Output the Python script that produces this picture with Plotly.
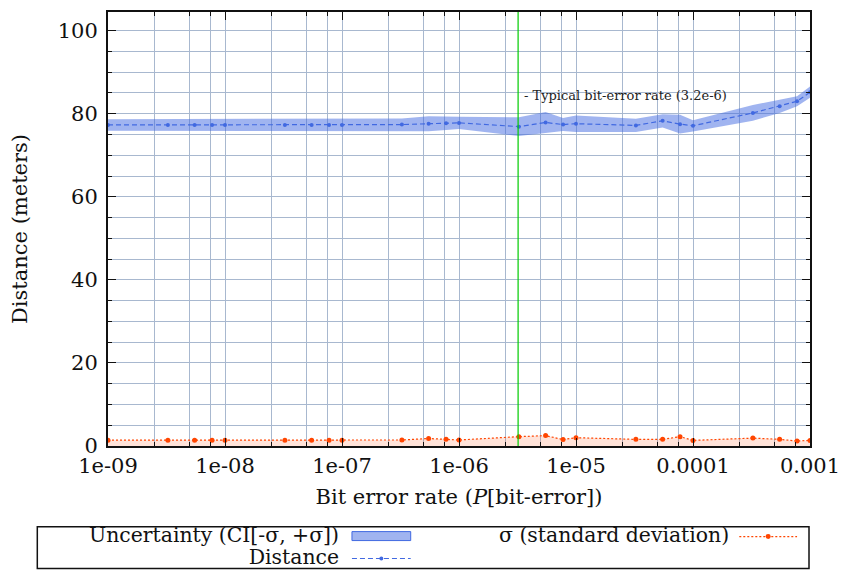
import numpy as np
import plotly.graph_objects as go

# ---------------- data ----------------
ber = [1e-9, 3.25e-9, 5.5e-9, 7.75e-9,
       1e-8, 3.25e-8, 5.5e-8, 7.75e-8,
       1e-7, 3.25e-7, 5.5e-7, 7.75e-7,
       1e-6, 3.25e-6, 5.5e-6, 7.75e-6,
       1e-5, 3.25e-5, 5.5e-5, 7.75e-5,
       1e-4, 3.25e-4, 5.5e-4, 7.75e-4,
       1e-3]
distance = [77.3, 77.3, 77.3, 77.3,
            77.3, 77.3, 77.3, 77.3,
            77.3, 77.4, 77.6, 77.7,
            77.8, 76.9, 77.9, 77.4,
            77.6, 77.2, 78.3, 77.5,
            77.1, 80.2, 81.8, 83.0,
            85.2]
sigma = [1.4, 1.4, 1.4, 1.4,
         1.4, 1.4, 1.4, 1.4,
         1.4, 1.45, 1.8, 1.6,
         1.45, 2.25, 2.5, 1.55,
         2.0, 1.6, 1.6, 2.25,
         1.35, 1.9, 1.6, 1.2,
         1.35]
typical_ber = 3.2e-6
typical_label = "- Typical bit-error rate (3.2e-6)"
x_tick_vals = [1e-9, 1e-8, 1e-7, 1e-6, 1e-5, 1e-4, 1e-3]
x_tick_text = ["1e-09", "1e-08", "1e-07", "1e-06", "1e-05", "0.0001", "0.001"]
x_minor_mult = [2.5, 5, 7.5]
y_range = [0, 104.5]
legend_left = ["Uncertainty (CI[-σ, +σ])", "Distance"]
legend_right = "σ (standard deviation)"

# ---------------- styles ----------------
FONT = "DejaVu Serif"
FS = 21
LFS = 20.4
BLUE = "#4169e1"
BAND = "rgba(65,105,225,0.5)"
RED = "#ff4500"
REDFILL = "rgba(255,69,0,0.15)"
GRID = "#a8b8cf"
INK = "#111"

W, H = 850, 571
ML, MR, MT, MB = 108, 37, 10, 125
PW, PH = W - ML - MR, H - MT - MB


def px(xp):
    return (xp - ML) / PW


def py(yp):
    return (H - MB - yp) / PH


upper = [d + s for d, s in zip(distance, sigma)]
lower = [d - s for d, s in zip(distance, sigma)]

fig = go.Figure()
fig.add_trace(go.Scatter(x=ber, y=lower, mode="lines", line=dict(width=0),
                         showlegend=False, hoverinfo="skip"))
fig.add_trace(go.Scatter(x=ber, y=upper, mode="lines", line=dict(width=0),
                         fill="tonexty", fillcolor=BAND, showlegend=False,
                         name="Uncertainty (CI[-σ, +σ])"))
fig.add_trace(go.Scatter(x=ber, y=sigma, mode="lines+markers",
                         line=dict(color=RED, width=1.2, dash="2px,2px"),
                         marker=dict(color=RED, size=5),
                         fill="tozeroy", fillcolor=REDFILL,
                         showlegend=False, name="σ (standard deviation)"))
fig.add_trace(go.Scatter(x=ber, y=distance, mode="lines+markers",
                         line=dict(color=BLUE, width=1.2, dash="5px,3px"),
                         marker=dict(color=BLUE, size=4),
                         showlegend=False, name="Distance"))
fig.add_trace(go.Scatter(x=[typical_ber, typical_ber], y=y_range, mode="lines",
                         line=dict(color="#00cc00", width=1.2),
                         showlegend=False, hoverinfo="skip"))

fig.add_annotation(x=np.log10(typical_ber), y=84.4, xref="x", yref="y",
                   text=typical_label, showarrow=False, xanchor="left",
                   yanchor="middle", xshift=4,
                   font=dict(family=FONT, size=13, color="#222"))

minor_vals = [m * d for d in x_tick_vals[:-1] for m in x_minor_mult]

fig.update_xaxes(type="log", range=[-9, -3], tickvals=x_tick_vals,
                 ticktext=x_tick_text, ticks="inside", ticklen=8,
                 tickwidth=1, tickcolor=INK, showline=True, linewidth=2,
                 linecolor=INK, mirror="allticks", showgrid=True,
                 gridcolor=GRID, gridwidth=1, zeroline=False,
                 tickfont=dict(family=FONT, size=FS, color=INK),
                 minor=dict(tickmode="array", tickvals=minor_vals,
                            ticks="inside", ticklen=4, tickcolor=INK,
                            showgrid=True, gridcolor=GRID, gridwidth=1),
                 title=dict(text="Bit error rate (<i>P</i>[bit-error])",
                            font=dict(family=FONT, size=FS, color=INK),
                            standoff=12))
fig.update_yaxes(range=y_range, tick0=0, dtick=20, ticks="inside",
                 ticklen=8, tickwidth=1, tickcolor=INK, showline=True,
                 linewidth=2, linecolor=INK, mirror="allticks",
                 showgrid=True, gridcolor=GRID, gridwidth=1, zeroline=False,
                 ticklabelstandoff=4,
                 tickfont=dict(family=FONT, size=FS, color=INK),
                 minor=dict(dtick=5, ticks="inside", ticklen=4,
                            tickcolor=INK, showgrid=True,
                            gridcolor=GRID, gridwidth=1),
                 title=dict(text="Distance (meters)",
                            font=dict(family=FONT, size=FS, color=INK),
                            standoff=24))

# ---------------- manual legend (gnuplot style) ----------------
shapes = []
shapes.append(dict(type="rect", xref="paper", yref="paper",
                   x0=px(37), x1=px(812), y0=py(569), y1=py(527),
                   line=dict(color=INK, width=1.5), fillcolor="white"))
shapes.append(dict(type="rect", xref="paper", yref="paper",
                   x0=px(353), x1=px(412), y0=py(541), y1=py(532),
                   line=dict(color=BLUE, width=1), fillcolor=BAND))
shapes.append(dict(type="line", xref="paper", yref="paper",
                   x0=px(353), x1=px(412), y0=py(559), y1=py(559),
                   line=dict(color=BLUE, width=1.2, dash="5px,3px")))
shapes.append(dict(type="circle", xref="paper", yref="paper",
                   x0=px(380.5), x1=px(384.5), y0=py(561), y1=py(557),
                   line=dict(color=BLUE, width=0), fillcolor=BLUE))
shapes.append(dict(type="line", xref="paper", yref="paper",
                   x0=px(742), x1=px(800), y0=py(537), y1=py(537),
                   line=dict(color=RED, width=1.2, dash="2px,2px")))
shapes.append(dict(type="circle", xref="paper", yref="paper",
                   x0=px(768.5), x1=px(773.5), y0=py(539.5), y1=py(534.5),
                   line=dict(color=RED, width=0), fillcolor=RED))
fig.update_layout(shapes=shapes)

# left legend column: two right-aligned lines in one text, tight spacing
left_text = "<br>".join(
    f'<span style="font-size:{LFS}px">{t}</span>' for t in legend_left)
fig.add_annotation(x=px(341), y=py(546), xref="paper", yref="paper",
                   text=left_text, showarrow=False, xanchor="right",
                   yanchor="middle", align="right", borderpad=0,
                   font=dict(family=FONT, size=17, color=INK))
fig.add_annotation(x=px(733), y=py(535), xref="paper", yref="paper",
                   text=legend_right, showarrow=False, xanchor="right",
                   yanchor="middle", borderpad=0,
                   font=dict(family=FONT, size=LFS, color=INK))

fig.update_layout(width=W, height=H,
                  margin=dict(l=ML, r=MR, t=MT, b=MB, pad=0),
                  paper_bgcolor="white", plot_bgcolor="white",
                  showlegend=False)

fig.write_html("out.html")
